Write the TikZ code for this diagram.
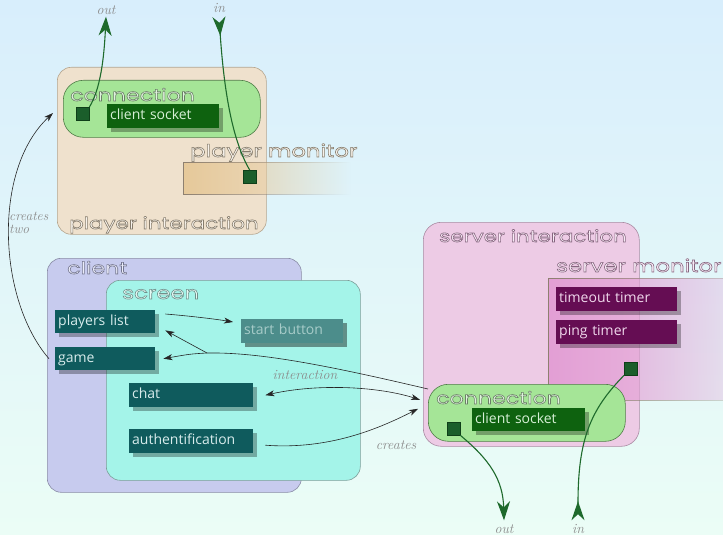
\documentclass[tikz,border=0pt]{standalone}
\usepackage{fontspec}
\usetikzlibrary{arrows.meta,shadows,fadings}
\newfontfamily\headfont[FakeStretch=1.3]{Poppins}
\newfontfamily\itemfont{Open Sans}
% outlined lettering: the glyphs are stroked in the text colour and filled
% with the pale tint given as the first argument (r g b)
\newcommand\strokedtext[2]{\special{pdf:literal 2 Tr 0.6 w #1 rg}#2\special{pdf:literal 0 Tr}}

\definecolor{bgtop}{HTML}{D8EEFC}
\definecolor{bgbot}{HTML}{EBFDF6}
\definecolor{pbeige}{HTML}{EFE1CD}
\definecolor{pborder}{HTML}{B5A58E}
\definecolor{lgreen}{HTML}{A5E597}
\definecolor{gborder}{HTML}{4F7D47}
\definecolor{lavender}{HTML}{C7CBEE}
\definecolor{lavborder}{HTML}{8A8CA6}
\definecolor{aqua}{HTML}{A4F4E9}
\definecolor{aquaborder}{HTML}{7C9E99}
\definecolor{pink}{HTML}{EDCBE5}
\definecolor{pinkborder}{HTML}{A98BA3}
\definecolor{montan}{HTML}{E6C99A}
\definecolor{monmag}{HTML}{E39FD5}
\definecolor{monborder}{HTML}{8E8070}
\definecolor{teal}{HTML}{0F5B5D}
\definecolor{tealtext}{HTML}{D8ECEC}
\definecolor{fadedteal}{HTML}{4C8D8B}
\definecolor{fadedtext}{HTML}{A7CCC9}
\definecolor{sockgreen}{HTML}{0E620F}
\definecolor{socktext}{HTML}{D6F0D6}
\definecolor{plum}{HTML}{650D53}
\definecolor{plumtext}{HTML}{F0D8EC}
\definecolor{sqfill}{HTML}{1B5E2B}
\definecolor{sqedge}{HTML}{0F3F19}
\definecolor{wire}{HTML}{1E6A2C}
\definecolor{hpl}{HTML}{857B6B}
\definecolor{hcl}{HTML}{73758E}
\definecolor{hsc}{HTML}{70908B}
\definecolor{hsv}{HTML}{86657F}
\definecolor{hgr}{HTML}{6A7F66}
\definecolor{notes}{HTML}{8A8A8A}

\tikzfading[name=fade right, left color=transparent!0, right color=transparent!100]

\tikzset{
  groupbox/.style={draw=#1, line width=0.6pt, rounded corners=14pt,
    anchor=north west, inner sep=0pt},
  heading/.style={anchor=base west, inner sep=0pt, text=#1,
    font=\headfont\fontsize{17.5}{17.5}\selectfont},
  item/.style 2 args={anchor=north west, inner xsep=3pt, inner ysep=0pt,
    text width=#1, minimum height=#2, text height=10pt, text depth=3pt,
    font=\itemfont\fontsize{14}{15}\selectfont,
    general shadow={fill=black, opacity=0.3, shadow xshift=3.5pt, shadow yshift=-3.5pt}},
  port/.style={draw=sqedge, fill=sqfill, minimum size=13pt, inner sep=0pt,
    anchor=north west},
  flowtip/.tip={Stealth[length=9pt, width=6pt, inset=2.5pt]},
  wiretip/.tip={Stealth[length=19pt, width=13pt, inset=6pt]},
  link/.style={draw=black!85, line width=0.6pt, -{flowtip}},
  wirelink/.style={draw=wire, line width=1.1pt},
  note/.style={text=notes, inner sep=0pt, font=\itshape\fontsize{14}{11}\selectfont}
}

\begin{document}
\begin{tikzpicture}[x=1pt, y=-1pt]
\useasboundingbox (0,0) rectangle (723,535);
\clip (0,0) rectangle (723,535);
\fill[top color=bgtop, bottom color=bgbot] (0,0) rectangle (723,535);

% ---------- player interaction ----------
\node[groupbox=pborder, fill=pbeige, minimum width=209pt, minimum height=167pt] (pinter) at (57,67) {};
\node[groupbox=gborder, fill=lgreen, rounded corners=20pt, minimum width=197pt, minimum height=57pt] (pconn) at (63,80) {};
\node[heading=hgr, font=\headfont\fontsize{17}{17}\selectfont] (hpconn) at (70,101) {\strokedtext{0.88 0.95 0.87}{connection}};
\node[item={106pt}{24pt}, fill=sockgreen, text=socktext] (csockA) at (107,104) {client socket};
\node[port] (sqA) at (76,107) {};
\path[fill=montan, draw=monborder, path fading=fade right] (183,162) rectangle (350,194);
\node[heading=hpl] (hpmon) at (190,157) {\strokedtext{0.97 0.95 0.92}{player monitor}};
\node[port] (sqB) at (243,170) {};
\node[heading=hpl, font=\headfont\fontsize{16.5}{16.5}\selectfont] (hpinter) at (69,229) {\strokedtext{0.97 0.95 0.92}{player interaction}};

% ---------- client ----------
\node[groupbox=lavborder, fill=lavender, minimum width=254pt, minimum height=234pt] (client) at (47,258) {};
\node[heading=hcl, font=\headfont\fontsize{17}{17}\selectfont] (hclient) at (67,274) {\strokedtext{0.92 0.93 0.98}{client}};
\node[groupbox=aquaborder, fill=aqua, minimum width=254pt, minimum height=200pt] (screen) at (106,280) {};
\node[heading=hsc] (hscreen) at (122,299) {\strokedtext{0.9 0.98 0.96}{screen}};
\node[item={94pt}{23pt}, fill=teal, text=tealtext] (plist) at (55,310) {players list};
\node[item={94pt}{23pt}, fill=teal, text=tealtext] (game) at (55,347) {game};
\node[item={96pt}{24pt}, fill=fadedteal, text=fadedtext,
      general shadow={fill=black, opacity=0.15, shadow xshift=3.5pt, shadow yshift=-3.5pt}] (start) at (241,319) {start button};
\node[item={118pt}{24pt}, fill=teal, text=tealtext] (chat) at (129,383) {chat};
\node[item={118pt}{24pt}, fill=teal, text=tealtext] (auth) at (129,429) {authentification};

% ---------- server interaction ----------
\node[groupbox=pinkborder, fill=pink, rounded corners=18pt, minimum width=216pt, minimum height=224pt] (sinter) at (423,222) {};
\node[heading=hsv, font=\headfont\fontsize{16.5}{16.5}\selectfont] (hsinter) at (439,242) {\strokedtext{0.97 0.92 0.96}{server interaction}};
\path[fill=monmag, draw=monborder, path fading=fade right] (548,278) rectangle (800,400);
\node[heading=hsv] (hsmon) at (556,272) {\strokedtext{0.97 0.92 0.96}{server monitor}};
\node[item={115pt}{24pt}, fill=plum, text=plumtext] (timeout) at (556,287) {timeout timer};
\node[item={115pt}{24pt}, fill=plum, text=plumtext] (ping) at (556,320) {ping timer};
\node[port] (sqC) at (624,362) {};
\node[groupbox=gborder, fill=lgreen, rounded corners=20pt, minimum width=197pt, minimum height=57pt] (sconn) at (428,384) {};
\node[heading=hgr, font=\headfont\fontsize{17}{17}\selectfont] (hsconn) at (436,404) {\strokedtext{0.88 0.95 0.87}{connection}};
\node[item={107pt}{23pt}, fill=sockgreen, text=socktext] (csockB) at (472,408) {client socket};
\node[port] (sqD) at (447,422) {};

% ---------- outside world ----------
\node[note] (outA) at (106,10) {out};
\node[note] (inA) at (219,8) {in};
\node[note] (outB) at (504,529) {out};
\node[note] (inB) at (578,529) {in};

\draw[wirelink, -{wiretip}] (sqA.north east) .. controls (100,90) and (104,60) .. ([yshift=-2pt]outA.south);
\draw[wirelink, {wiretip[reversed]}-] ([yshift=-4pt]inA.south) .. controls (224,90) and (232,140) .. (sqB.north);
\draw[wirelink, -{wiretip}] (sqD.south east) .. controls (490,460) and (503,480) .. ([yshift=4pt]outB.north);
\draw[wirelink, {wiretip[reversed]}-] ([yshift=4pt]inB.north) .. controls (578,440) and (590,410) .. (sqC.south west);

% ---------- flows ----------
\draw[link] ([xshift=10pt, yshift=-4pt]plist.north east) .. controls (190,316) and (215,319) .. ([xshift=-8pt, yshift=-3pt]start.north west);
\coordinate (fork) at (207,353);
\draw[link] ([yshift=-5pt]sconn.north west) .. controls (330,366) and (260,352) .. (fork)
  .. controls (190,354) .. ([xshift=8pt]game.east);
\draw[link] (fork) -- ([xshift=10pt, yshift=3pt]plist.south east);
\draw[link, {flowtip}-{flowtip}] ([xshift=12pt]chat.east)
  .. controls (320,383) and (380,387) .. ([xshift=-8pt, yshift=13pt]sconn.west);
\draw[link] ([xshift=12pt, yshift=-4pt]auth.east) .. controls (330,450) and (380,428) .. ([xshift=-10pt, yshift=4pt]sconn.west);
\draw[link] ([xshift=-6pt]game.west) .. controls (-2,300) and (-8,170) .. ([xshift=-10pt, yshift=-33pt]pconn.north west);

\node[note] (tInteract) at (305,375) {interaction};
\node[note] (tCreates) at (396,445) {creates};
\node[note, anchor=north west, align=left, font=\itshape\fontsize{13.5}{13}\selectfont] (tTwo) at (9,212) {creates\\two};
\end{tikzpicture}
\end{document}
